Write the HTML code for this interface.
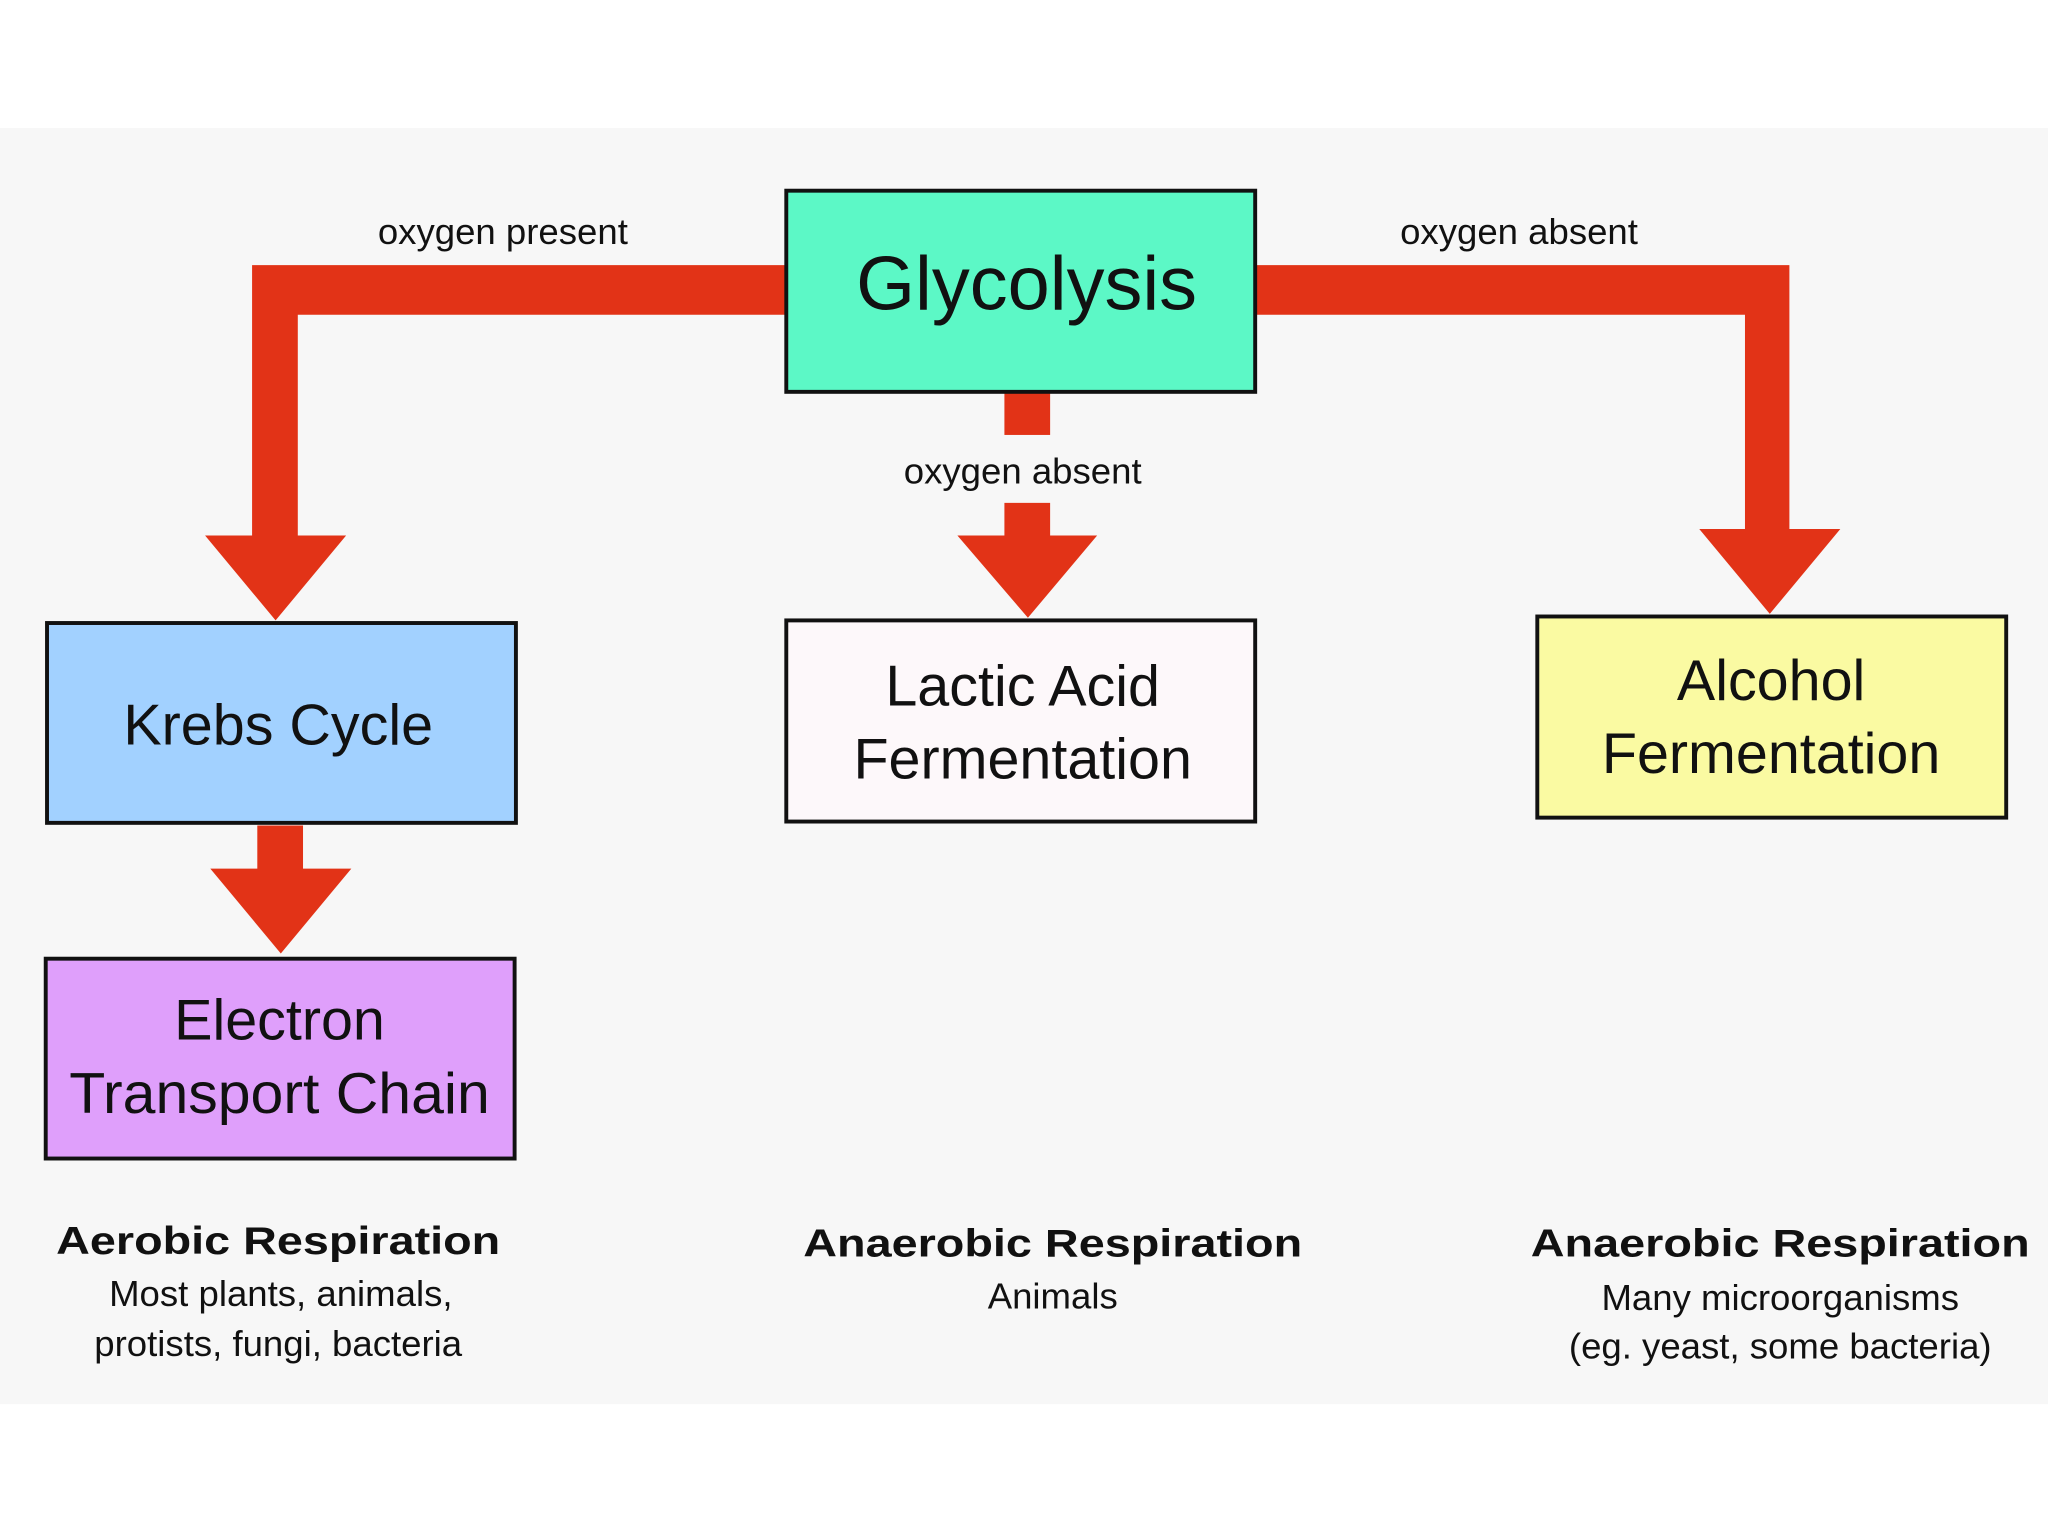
<!DOCTYPE html>
<html><head><meta charset="utf-8"><style>
html,body{margin:0;padding:0;background:#fff;}
svg{display:block;}
text{font-family:"Liberation Sans",sans-serif;fill:#111;}
</style></head><body>
<svg width="2048" height="1536" viewBox="0 0 1568 1176" preserveAspectRatio="none" xmlns="http://www.w3.org/2000/svg">
<rect x="0" y="0" width="1568" height="1176" fill="#ffffff"/>
<rect x="0" y="98" width="1568" height="977" fill="#f7f7f7"/>
<g fill="#e23317">
<polygon points="602,203 193,203 193,410 157,410 211,475 265,410 228,410 228,241 602,241"/>
<polygon points="961,203 1370,203 1370,405 1409,405 1355,470 1301,405 1336,405 1336,241 961,241"/>
<rect x="769" y="300" width="35" height="33"/>
<polygon points="769,385 804,385 804,410 840,410 787,473 733,410 769,410"/>
<polygon points="197,632 232,632 232,665 269,665 215,730 161,665 197,665"/>
</g>
<g stroke="#111" stroke-width="3">
<rect x="602" y="146" width="359" height="154" fill="#5cf8c6"/>
<rect x="36" y="477" width="359" height="153" fill="#a2d1ff"/>
<rect x="602" y="475" width="359" height="154" fill="#fdf8fa"/>
<rect x="1177" y="472" width="359" height="154" fill="#fafaa2"/>
<rect x="35" y="734" width="359" height="153" fill="#df9ffb"/>
</g>
<g text-anchor="middle">
<text x="385" y="187" font-size="28">oxygen present</text>
<text x="1163" y="187" font-size="28">oxygen absent</text>
<text x="783" y="370" font-size="28">oxygen absent</text>
<text x="786" y="237" font-size="58">Glycolysis</text>
<text x="213" y="570" font-size="44">Krebs Cycle</text>
<text x="783" y="540" font-size="44">Lactic Acid</text>
<text x="783" y="596" font-size="44">Fermentation</text>
<text x="1356" y="536" font-size="44">Alcohol</text>
<text x="1356" y="592" font-size="44">Fermentation</text>
<text x="214" y="796" font-size="44">Electron</text>
<text x="214" y="852" font-size="44" textLength="322" lengthAdjust="spacingAndGlyphs">Transport Chain</text>
<text x="213" y="960" font-size="30" font-weight="bold" textLength="340" lengthAdjust="spacingAndGlyphs">Aerobic Respiration</text>
<text x="215" y="1000" font-size="28">Most plants, animals,</text>
<text x="213" y="1038" font-size="28">protists, fungi, bacteria</text>
<text x="806" y="962" font-size="30" font-weight="bold" textLength="382" lengthAdjust="spacingAndGlyphs">Anaerobic Respiration</text>
<text x="806" y="1002" font-size="28">Animals</text>
<text x="1363" y="962" font-size="30" font-weight="bold" textLength="382" lengthAdjust="spacingAndGlyphs">Anaerobic Respiration</text>
<text x="1363" y="1003" font-size="28">Many microorganisms</text>
<text x="1363" y="1040" font-size="28">(eg. yeast, some bacteria)</text>
</g>
</svg>
</body></html>
